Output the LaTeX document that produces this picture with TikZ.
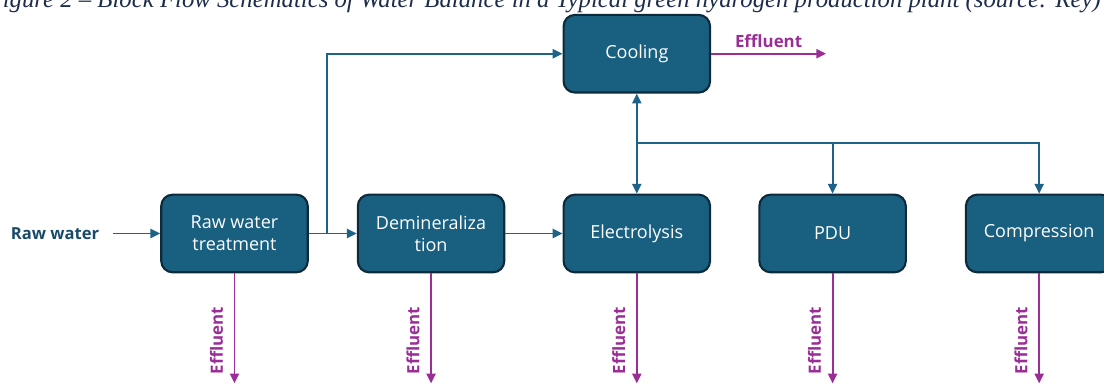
\documentclass[tikz,border=0pt]{standalone}
\usepackage{fontspec}
\setmainfont{Open Sans}
\newfontfamily\capfont{Liberation Serif}
\usetikzlibrary{arrows.meta,positioning}
\definecolor{boxblue}{RGB}{24,95,128}
\definecolor{boxedge}{RGB}{14,42,58}
\definecolor{flowblue}{RGB}{28,99,135}
\definecolor{effpurple}{RGB}{155,45,150}
\definecolor{rawblue}{RGB}{24,74,106}
\definecolor{capblue}{RGB}{30,45,75}
\begin{document}
\begin{tikzpicture}[x=0.025cm,y=0.025cm,
  block/.style={draw=boxedge,line width=1.5pt,fill=boxblue,rounded corners=8pt,
    minimum width=3.66cm,minimum height=1.94cm,text=white,align=center,
    font=\fontsize{12.8}{15.8}\selectfont},
  flow/.style={draw=flowblue,line width=1.4pt,-{Triangle[length=7pt,width=6.5pt]}},
  eff/.style={draw=effpurple,line width=1.4pt,-{Triangle[length=7pt,width=6.5pt]}},
  efflabel/.style={text=effpurple,font=\bfseries\fontsize{12}{14}\selectfont}]
   \clip (0,0) rectangle (1104,385);
   % caption, cut off at the top
   \node[anchor=base east,inner sep=0pt,text=capblue,
     font=\capfont\itshape\fontsize{17.6}{20}\selectfont] (caption) at (1101,377.5)
     {Figure 2 – Block Flow Schematics of Water Balance in a Typical green hydrogen production plant (source: Rey)};
   % process blocks
   \node[block] (rwt) at (234.5,151.5) {Raw water\\treatment};
   \node[block,right=1.2cm of rwt] (demin) {Demineraliza\\tion};
   \node[block,right=1.43cm of demin] (elec) {Electrolysis};
   \node[block,right=1.18cm of elec] (pdu) {PDU};
   \node[block,right=1.45cm of pdu] (comp) {Compression};
   \node[block,above=2.5cm of elec] (cool) {Cooling};
   % inlet
   \node[text=rawblue,font=\bfseries\fontsize{11.8}{14}\selectfont] (raw) at (55,151.5) {Raw water};
   \coordinate (rawin) at (113,151.5);
   \draw[flow] (rawin) -- (rwt.west);
   % water flows
   \draw[flow] (rwt.east) -- (demin.west);
   \path (rwt.east) ++(18,0) coordinate (split);
   \draw[flow] (split) |- (cool.west);
   \draw[flow] (demin.east) -- (elec.west);
   \path (elec.north) ++(0,51) coordinate (hub);
   \draw[flow] (hub) -- (cool.south);
   \draw[flow] (hub) -- (elec.north);
   \draw[flow] (hub) -| (pdu.north);
   \draw[flow] (hub) -| (comp.north);
   % effluents
   \path (cool.east) ++(115,0) coordinate (coolout);
   \draw[eff] (cool.east) -- (coolout) node[midway,above,efflabel] {Effluent};
   \foreach \n in {rwt,demin,elec,pdu,comp}
     \draw[eff] (\n.south) -- ++(0,-110)
       node[pos=0.61,efflabel,rotate=90,anchor=south,inner ysep=7.5pt] {Effluent};
\end{tikzpicture}
\end{document}
